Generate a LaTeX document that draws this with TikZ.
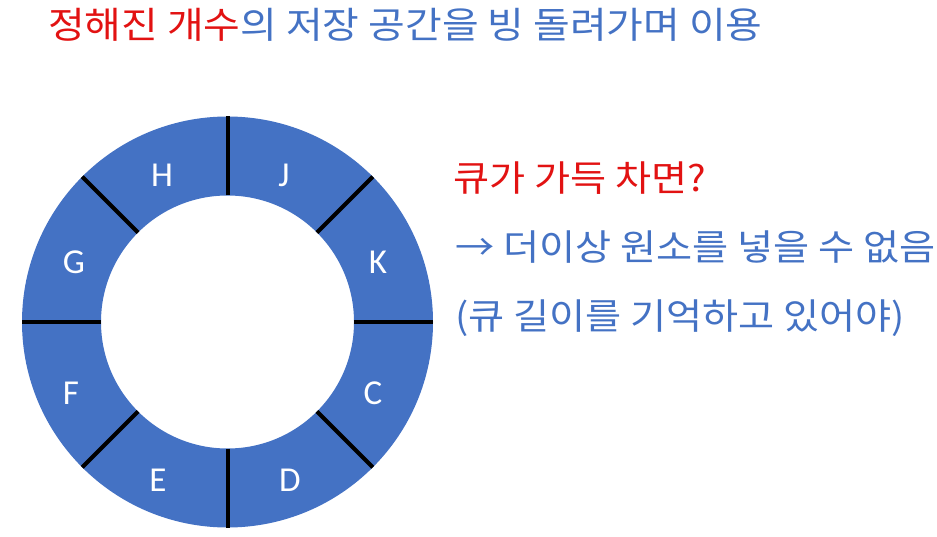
\documentclass[tikz,border=0pt]{standalone}
\usepackage{fontspec}
\setmainfont{Carlito}
\newfontfamily\krfont[FakeStretch=1.09]{Noto Sans CJK KR}
\newfontfamily\krtitlefont[FakeStretch=1.09]{Noto Sans CJK KR}
\definecolor{qblue}{RGB}{68,114,196}
\definecolor{qred}{RGB}{226,18,18}
\begin{document}
\begin{tikzpicture}[x=1pt,y=-1pt,
  letter/.style={text=white,font=\fontsize{35}{35}\selectfont,inner sep=0pt},
  krtext/.style={anchor=base west,inner sep=0pt,font=\krfont\fontsize{36}{40}\selectfont},
  krtitle/.style={anchor=base west,inner sep=0pt,font=\krtitlefont\fontsize{36.6}{40}\selectfont},
  divider/.style={line width=4pt,black}]
\useasboundingbox (0,0) rectangle (937,537);
\coordinate (c) at (227.5,322);
\fill[qblue,even odd rule] (c) circle[radius=205.5] (c) circle[radius=126.5];
\begin{scope}[shift={(c)}]
\foreach \a in {0,45,...,315}
  \draw[divider] (\a:126.5) -- (\a:205.5);
\end{scope}
\node[letter] (H) at (162,175) {H};
\node[letter] (J) at (284,175) {J};
\node[letter] (G) at (74,262) {G};
\node[letter] (K) at (378,262) {K};
\node[letter] (F) at (71,393) {F};
\node[letter] (C) at (373,393) {C};
\node[letter] (E) at (158,480) {E};
\node[letter] (D) at (290,480) {D};
\node[krtitle,text=qblue] (title) at (48,39) {\textcolor{qred}{정해진 개수}의 저장 공간을 빙 돌려가며 이용};
\node[krtext,text=qred] (q) at (453,192) {큐가 가득 차면?};
\node[krtext,text=qblue] (a1) at (455,261) {→ 더이상 원소를 넣을 수 없음};
\node[krtext,text=qblue] (a2) at (455,330) {(큐 길이를 기억하고 있어야)};
\end{tikzpicture}
\end{document}
